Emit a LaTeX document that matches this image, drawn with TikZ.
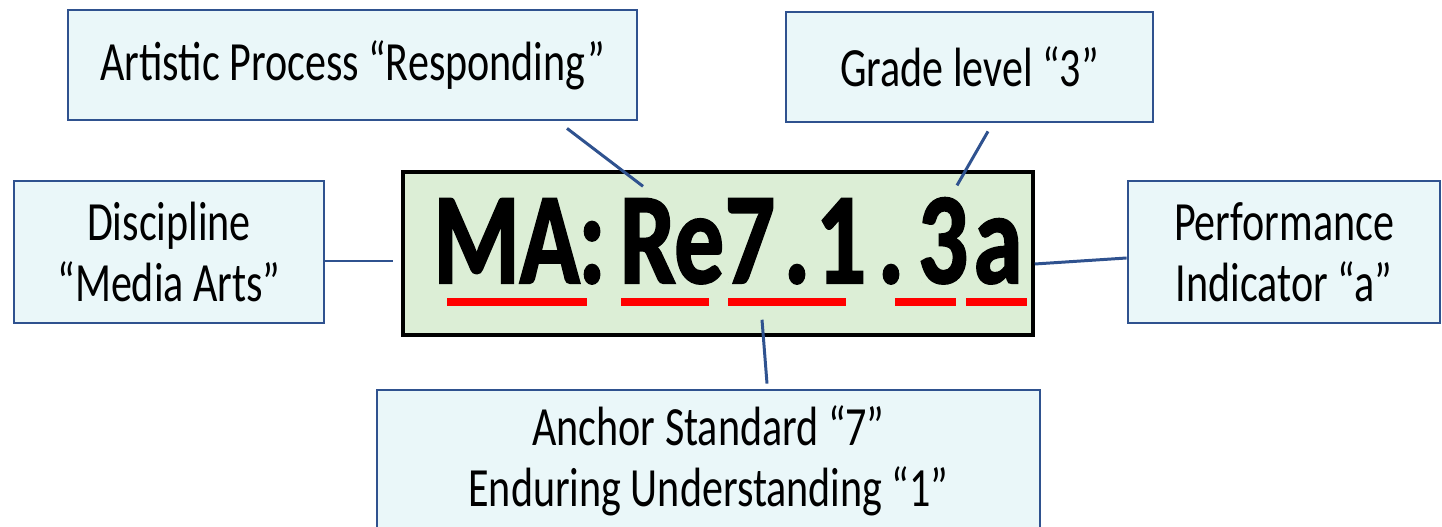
\documentclass[tikz,border=0pt]{standalone}
\usepackage{fontspec}
\usetikzlibrary{calc, shapes, positioning}

\newfontfamily\tagfont[FakeStretch=0.76]{Carlito}
\newfontfamily\codefont[FakeStretch=0.76, BoldFeatures={FakeBold=1.6}]{Carlito}

\definecolor{edgeblue}{RGB}{47,82,143}
\definecolor{tagfill}{RGB}{234,247,249}
\definecolor{codefill}{RGB}{220,238,214}
\definecolor{markred}{RGB}{255,0,0}

\begin{document}
\begin{tikzpicture}[
    tag/.style={draw=edgeblue, line width=1.6pt, fill=tagfill, inner sep=0pt, align=center,
        font=\tagfont\fontsize{31.5}{35}\selectfont},
    link/.style={edgeblue, line width=1.7pt},
    part/.style={anchor=base, inner sep=0pt, font=\codefont\bfseries\fontsize{74}{80}\selectfont},
    uline/.style={markred, line width=4pt}]
            \useasboundingbox (0, 0) rectangle (28.84, 10.54);

            % Code box
            \node[draw=black, line width=2pt, fill=codefill, minimum width=12.6cm, minimum height=3.26cm] (codebox) at (14.36, 5.47) {};

            % Code parts
            \node[part] (ma) at (10.13, 4.88) {MA};
            \node[part] (colon) at (11.84, 4.88) {:};
            \node[part] (re) at (13.44, 4.88) {Re};
            \node[part] (seven) at (15.0, 4.88) {7};
            \node[part] (dota) at (15.94, 4.88) {.};
            \node[part] (one) at (16.82, 4.88) {1};
            \node[part] (dotb) at (17.82, 4.88) {.};
            \node[part] (three) at (18.86, 4.88) {3};
            \node[part] (ia) at (19.96, 4.88) {a};

            % Red marks under the parts
            \foreach \xa/\xb in {8.94/11.74, 12.42/14.18, 14.56/16.92, 17.9/19.12, 19.32/20.54}
                \draw[uline] (\xa, 4.5) -- (\xb, 4.5);

            % Label boxes
            \node[tag, minimum width=11.38cm, minimum height=2.2cm] (artistic) at (7.05, 9.24) {Artistic Process “Responding”};
            \node[tag, minimum width=7.34cm, minimum height=2.2cm] (grade) at (19.39, 9.2) {Grade level “3”};
            \node[tag, minimum width=6.2cm, minimum height=2.84cm] (discipline) at (3.38, 5.5) {Discipline\\“Media Arts”};
            \node[tag, minimum width=6.24cm, minimum height=2.84cm] (perf) at (25.68, 5.5) {Performance\\Indicator “a”};
            \node[tag, minimum width=13.26cm, minimum height=2.84cm] (anchor) at (14.17, 1.32) {Anchor Standard “7”\\Enduring Understanding “1”};

            % Connectors
            \draw[link] ([xshift=4.29cm, yshift=-0.14cm]artistic.south) -- ([xshift=-0.58cm, yshift=0.24cm]re.north);
            \draw[link] ([xshift=0.37cm, yshift=-0.16cm]grade.south) -- ([xshift=0.28cm, yshift=0.24cm]three.north);
            \draw[link] ([yshift=-0.18cm]discipline.east) -- ([xshift=-0.16cm, yshift=-0.15cm]codebox.west);
            \draw[link] ([yshift=-0.21cm]codebox.east) -- ([yshift=-0.12cm]perf.west);
            \draw[link] ([xshift=0.88cm, yshift=0.34cm]codebox.south) -- ([xshift=1.17cm, yshift=0.1cm]anchor.north);
        \end{tikzpicture}
\end{document}
